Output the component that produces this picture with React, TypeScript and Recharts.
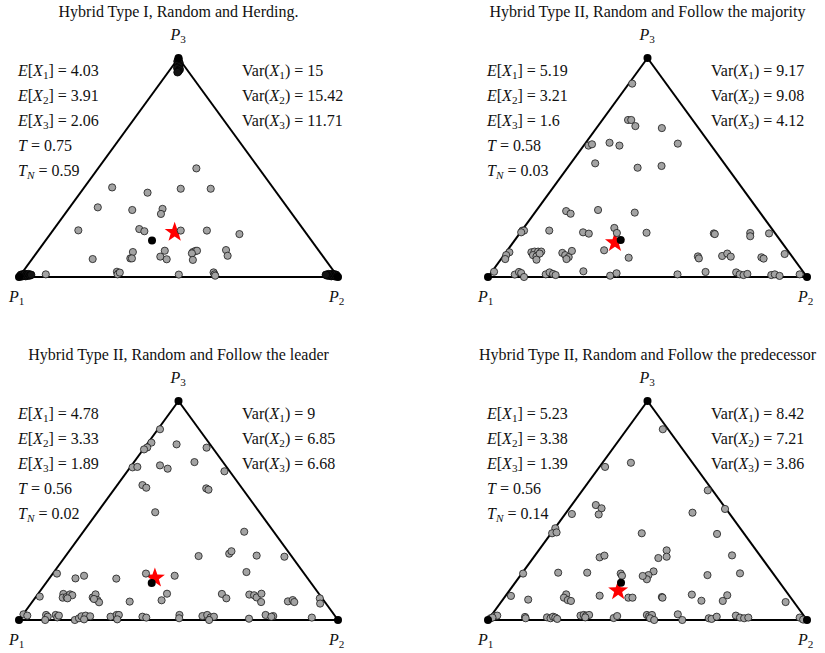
import React from "react";
import { ScatterChart, Scatter, XAxis, YAxis, ReferenceLine } from "recharts";

// points are [u, v] inside the triangle: P1=(0,0), P2=(1,0), P3=(0.5,1)
const vertices = [
  { x: 0, y: 0 },
  { x: 1, y: 0 },
  { x: 0.5, y: 1 },
];

// herding runs pile up at the corners, so these overplot into solid blobs
const herdingCorners = [
  [0.003, 0.004], [0.006, 0.01], [0.009, 0.003], [0.012, 0.012], [0.015, 0.006], [0.018, 0.014],
  [0.021, 0.004], [0.024, 0.011], [0.027, 0.006], [0.03, 0.013], [0.034, 0.007], [0.038, 0.01],
  [0.997, 0.004], [0.994, 0.01], [0.991, 0.003], [0.988, 0.012], [0.985, 0.006], [0.982, 0.014],
  [0.979, 0.004], [0.976, 0.011], [0.973, 0.006], [0.97, 0.013], [0.966, 0.007], [0.962, 0.01],
  [0.5, 0.995], [0.497, 0.985], [0.503, 0.978], [0.498, 0.97], [0.502, 0.962], [0.496, 0.955],
  [0.504, 0.948], [0.5, 0.94], [0.497, 0.935],
];

const herdingPoints = [
  [0.556, 0.496], [0.292, 0.409], [0.507, 0.403], [0.601, 0.403], [0.403, 0.385],
  [0.247, 0.318], [0.355, 0.306], [0.45, 0.311], [0.445, 0.288], [0.186, 0.213],
  [0.377, 0.219], [0.393, 0.209], [0.507, 0.212], [0.589, 0.212], [0.691, 0.196],
  [0.357, 0.114], [0.457, 0.12], [0.545, 0.114], [0.553, 0.119], [0.558, 0.12], [0.542, 0.108],
  [0.649, 0.123], [0.654, 0.097], [0.231, 0.082], [0.349, 0.085], [0.354, 0.085],
  [0.443, 0.093], [0.463, 0.081], [0.545, 0.078], [0.084, 0.012], [0.307, 0.024],
  [0.312, 0.017], [0.309, 0.012], [0.316, 0.02], [0.501, 0.011], [0.61, 0.021],
  [0.613, 0.012], [0.615, 0.006],
];

const majorityPoints = [
  [0.452, 0.883], [0.439, 0.717], [0.449, 0.717], [0.462, 0.689], [0.545, 0.68],
  [0.315, 0.6], [0.326, 0.606], [0.381, 0.613], [0.412, 0.6], [0.595, 0.609],
  [0.336, 0.519], [0.469, 0.499], [0.544, 0.507], [0.245, 0.301], [0.259, 0.289],
  [0.345, 0.306], [0.46, 0.294], [0.108, 0.212], [0.113, 0.212], [0.104, 0.204],
  [0.192, 0.212], [0.298, 0.204], [0.316, 0.198], [0.396, 0.224], [0.404, 0.201],
  [0.497, 0.202], [0.708, 0.199], [0.711, 0.196], [0.822, 0.201], [0.822, 0.186],
  [0.881, 0.199], [0.067, 0.113], [0.057, 0.1], [0.054, 0.082], [0.136, 0.113],
  [0.146, 0.116], [0.157, 0.116], [0.167, 0.116], [0.141, 0.1], [0.152, 0.094],
  [0.162, 0.107], [0.152, 0.079], [0.233, 0.11], [0.242, 0.1], [0.253, 0.091],
  [0.263, 0.119], [0.246, 0.082], [0.364, 0.122], [0.441, 0.088], [0.658, 0.094],
  [0.661, 0.085], [0.734, 0.096], [0.75, 0.107], [0.761, 0.093], [0.857, 0.09],
  [0.864, 0.084], [0.93, 0.105], [0.019, 0.024], [0.084, 0.011], [0.097, 0.023],
  [0.104, 0.018], [0.113, 0.0], [0.181, 0.012], [0.193, 0.021], [0.204, 0.014],
  [0.212, 0.009], [0.299, 0.026], [0.383, 0.006], [0.403, 0.017], [0.594, 0.012],
  [0.682, 0.023], [0.778, 0.021], [0.789, 0.012], [0.801, 0.009], [0.813, 0.014],
  [0.888, 0.009], [0.899, 0.012], [0.914, 0.005], [0.977, 0.012],
];

const leaderPoints = [
  [0.442, 0.871], [0.415, 0.81], [0.402, 0.788], [0.392, 0.779], [0.494, 0.802],
  [0.588, 0.787], [0.356, 0.697], [0.371, 0.699], [0.442, 0.706], [0.466, 0.691],
  [0.55, 0.721], [0.644, 0.679], [0.387, 0.616], [0.399, 0.604], [0.587, 0.601],
  [0.594, 0.595], [0.427, 0.492], [0.706, 0.403], [0.659, 0.303], [0.666, 0.314],
  [0.563, 0.292], [0.745, 0.294], [0.832, 0.289], [0.119, 0.212], [0.177, 0.19],
  [0.204, 0.202], [0.305, 0.189], [0.398, 0.212], [0.488, 0.202], [0.713, 0.219],
  [0.065, 0.107], [0.139, 0.119], [0.137, 0.102], [0.149, 0.105], [0.16, 0.117],
  [0.167, 0.113], [0.152, 0.099], [0.231, 0.103], [0.24, 0.117], [0.246, 0.091],
  [0.251, 0.081], [0.235, 0.096], [0.347, 0.084], [0.464, 0.12], [0.447, 0.09],
  [0.636, 0.119], [0.65, 0.099], [0.722, 0.116], [0.737, 0.113], [0.745, 0.103],
  [0.76, 0.12], [0.759, 0.082], [0.843, 0.085], [0.858, 0.091], [0.863, 0.082],
  [0.943, 0.099], [0.944, 0.075], [0.014, 0.026], [0.026, 0.02], [0.085, 0.023],
  [0.09, 0.015], [0.082, 0.0], [0.115, 0.023], [0.12, 0.012], [0.125, 0.02],
  [0.175, 0.0], [0.188, 0.008], [0.196, 0.017], [0.209, 0.02], [0.223, 0.017],
  [0.204, 0.003], [0.287, 0.015], [0.306, 0.023], [0.313, 0.023], [0.308, 0.003],
  [0.387, 0.015], [0.399, 0.011], [0.503, 0.023], [0.502, 0.008], [0.575, 0.018],
  [0.59, 0.023], [0.601, 0.012], [0.611, 0.015], [0.596, 0.0], [0.721, 0.006],
  [0.773, 0.023], [0.797, 0.018], [0.791, 0.015], [0.918, 0.011],
];

const predecessorPoints = [
  [0.548, 0.871], [0.448, 0.718], [0.367, 0.699], [0.689, 0.592], [0.338, 0.525],
  [0.356, 0.51], [0.347, 0.482], [0.263, 0.484], [0.641, 0.49], [0.743, 0.507],
  [0.211, 0.419], [0.201, 0.396], [0.215, 0.4], [0.482, 0.396], [0.718, 0.393],
  [0.56, 0.318], [0.56, 0.289], [0.534, 0.283], [0.35, 0.286], [0.365, 0.294],
  [0.765, 0.295], [0.11, 0.212], [0.22, 0.216], [0.311, 0.216], [0.416, 0.212],
  [0.42, 0.202], [0.519, 0.222], [0.503, 0.205], [0.498, 0.186], [0.485, 0.201],
  [0.688, 0.205], [0.79, 0.213], [0.072, 0.11], [0.126, 0.093], [0.245, 0.117],
  [0.238, 0.102], [0.25, 0.091], [0.26, 0.087], [0.35, 0.111], [0.44, 0.102],
  [0.453, 0.102], [0.545, 0.105], [0.547, 0.102], [0.639, 0.116], [0.669, 0.088],
  [0.736, 0.087], [0.75, 0.113], [0.933, 0.082], [0.008, 0.008], [0.019, 0.017],
  [0.029, 0.02], [0.014, 0.011], [0.116, 0.014], [0.118, 0.008], [0.185, 0.012],
  [0.196, 0.008], [0.204, 0.015], [0.211, 0.011], [0.217, 0.005], [0.29, 0.02],
  [0.3, 0.023], [0.308, 0.02], [0.317, 0.023], [0.305, 0.012], [0.394, 0.009],
  [0.405, 0.018], [0.498, 0.023], [0.505, 0.017], [0.514, 0.023], [0.508, 0.008],
  [0.521, 0.0], [0.595, 0.026], [0.609, 0.0], [0.692, 0.008], [0.701, 0.005],
  [0.717, 0.015], [0.777, 0.02], [0.79, 0.011], [0.803, 0.008], [0.816, 0.011],
  [0.977, 0.011], [0.988, 0.002],
];

const titles = [
  "Hybrid Type I, Random and Herding.",
  "Hybrid Type II, Random and Follow the majority",
  "Hybrid Type II, Random and Follow the leader",
  "Hybrid Type II, Random and Follow the predecessor",
];

const means = [[0.417, 0.167], [0.416, 0.169], [0.416, 0.169], [0.417, 0.17]];
const stars = [[0.488, 0.204], [0.398, 0.157], [0.426, 0.192], [0.408, 0.134]];

const expX1 = ["4.03", "5.19", "4.78", "5.23"];
const expX2 = ["3.91", "3.21", "3.33", "3.38"];
const expX3 = ["2.06", "1.6", "1.89", "1.39"];
const tValues = ["0.75", "0.58", "0.56", "0.56"];
const tnValues = ["0.59", "0.03", "0.02", "0.14"];
const varX1 = ["15", "9.17", "9", "8.42"];
const varX2 = ["15.42", "9.08", "6.85", "7.21"];
const varX3 = ["11.71", "4.12", "6.68", "3.86"];

const pointSets = [herdingPoints, majorityPoints, leaderPoints, predecessorPoints];
const cornerSets = [herdingCorners, [], [], []];

const FONT = "'Liberation Serif', 'Times New Roman', serif";

const toXY = (arr: number[][]) => arr.map(([x, y]) => ({ x, y }));

const GrayDot = (p: any) => (
  <circle cx={p.cx} cy={p.cy} r={3.6} fill="#a3a3a3" stroke="#1a1a1a" strokeWidth={0.8} />
);
const DarkDot = (p: any) => (
  <circle cx={p.cx} cy={p.cy} r={3.8} fill="#151515" stroke="#000" strokeWidth={0.8} />
);
const BlackDot = (p: any) => <circle cx={p.cx} cy={p.cy} r={4} fill="#000" />;
const StarShape = (p: any) => {
  const pts: string[] = [];
  for (let i = 0; i < 10; i++) {
    const r = i % 2 === 0 ? 10.5 : 4.2;
    const a = -Math.PI / 2 + (i * Math.PI) / 5;
    pts.push(`${p.cx + r * Math.cos(a)},${p.cy + r * Math.sin(a)}`);
  }
  return <polygon points={pts.join(" ")} fill="#ff0000" />;
};

const Sub = ({ children }: any) => (
  <span style={{ fontSize: "0.7em", position: "relative", top: "0.3em" }}>{children}</span>
);
const Eq = () => <span style={{ margin: "0 4px" }}>=</span>;

const Line = ({ left, top, children }: any) => (
  <div style={{ position: "absolute", left, top, fontSize: 16, lineHeight: "17px", whiteSpace: "nowrap" }}>
    {children}
  </div>
);

const Panel = ({ idx, left, top }: any) => {
  const cx = left + 178.5;
  const rows = [
    <><i>E</i>[<i>X</i><Sub>1</Sub>]<Eq />{expX1[idx]}</>,
    <><i>E</i>[<i>X</i><Sub>2</Sub>]<Eq />{expX2[idx]}</>,
    <><i>E</i>[<i>X</i><Sub>3</Sub>]<Eq />{expX3[idx]}</>,
    <><i>T</i><Eq />{tValues[idx]}</>,
    <><i>T</i><Sub><i>N</i></Sub><Eq />{tnValues[idx]}</>,
  ];
  const vars = [
    <>Var(<i>X</i><Sub>1</Sub>)<Eq />{varX1[idx]}</>,
    <>Var(<i>X</i><Sub>2</Sub>)<Eq />{varX2[idx]}</>,
    <>Var(<i>X</i><Sub>3</Sub>)<Eq />{varX3[idx]}</>,
  ];
  return (
    <>
      <div
        style={{
          position: "absolute",
          left: cx - 200,
          width: 400,
          top: top + 3,
          textAlign: "center",
          fontSize: 16,
          lineHeight: "17px",
          whiteSpace: "nowrap",
        }}
      >
        {titles[idx]}
      </div>
      <div style={{ position: "absolute", left: left, top: top + 38 }}>
        <ScatterChart width={359} height={259} margin={{ top: 20, bottom: 20, left: 19, right: 21 }}>
          <XAxis type="number" dataKey="x" domain={[0, 1]} hide />
          <YAxis type="number" dataKey="y" domain={[0, 1]} hide />
          <ReferenceLine segment={[{ x: 0, y: 0 }, { x: 1, y: 0 }]} stroke="#000" strokeWidth={2} ifOverflow="visible" />
          <ReferenceLine segment={[{ x: 0, y: 0 }, { x: 0.5, y: 1 }]} stroke="#000" strokeWidth={2} ifOverflow="visible" />
          <ReferenceLine segment={[{ x: 1, y: 0 }, { x: 0.5, y: 1 }]} stroke="#000" strokeWidth={2} ifOverflow="visible" />
          <Scatter data={toXY([stars[idx]])} shape={StarShape} isAnimationActive={false} />
          <Scatter data={toXY(pointSets[idx])} shape={GrayDot} isAnimationActive={false} />
          <Scatter data={toXY(cornerSets[idx])} shape={DarkDot} isAnimationActive={false} />
          <Scatter data={toXY([means[idx]])} shape={BlackDot} isAnimationActive={false} />
          <Scatter data={vertices} shape={BlackDot} isAnimationActive={false} />
        </ScatterChart>
      </div>
      <Line left={cx - 8} top={top + 26}>
        <i>P</i><Sub>3</Sub>
      </Line>
      <Line left={left + 9} top={top + 288}>
        <i>P</i><Sub>1</Sub>
      </Line>
      <Line left={left + 329} top={top + 288}>
        <i>P</i><Sub>2</Sub>
      </Line>
      {rows.map((r, i) => (
        <Line key={i} left={left + 18} top={top + 62 + i * 25}>
          {r}
        </Line>
      ))}
      {vars.map((r, i) => (
        <Line key={i} left={left + 242} top={top + 62 + i * 25}>
          {r}
        </Line>
      ))}
    </>
  );
};

export default function App() {
  return (
    <div
      style={{
        position: "absolute",
        left: 0,
        top: 0,
        width: 825,
        height: 653,
        background: "#fff",
        fontFamily: FONT,
        color: "#111",
        overflow: "hidden",
      }}
    >
      <Panel idx={0} left={0} top={0} />
      <Panel idx={1} left={469} top={0} />
      <Panel idx={2} left={0} top={343} />
      <Panel idx={3} left={469} top={343} />
    </div>
  );
}
